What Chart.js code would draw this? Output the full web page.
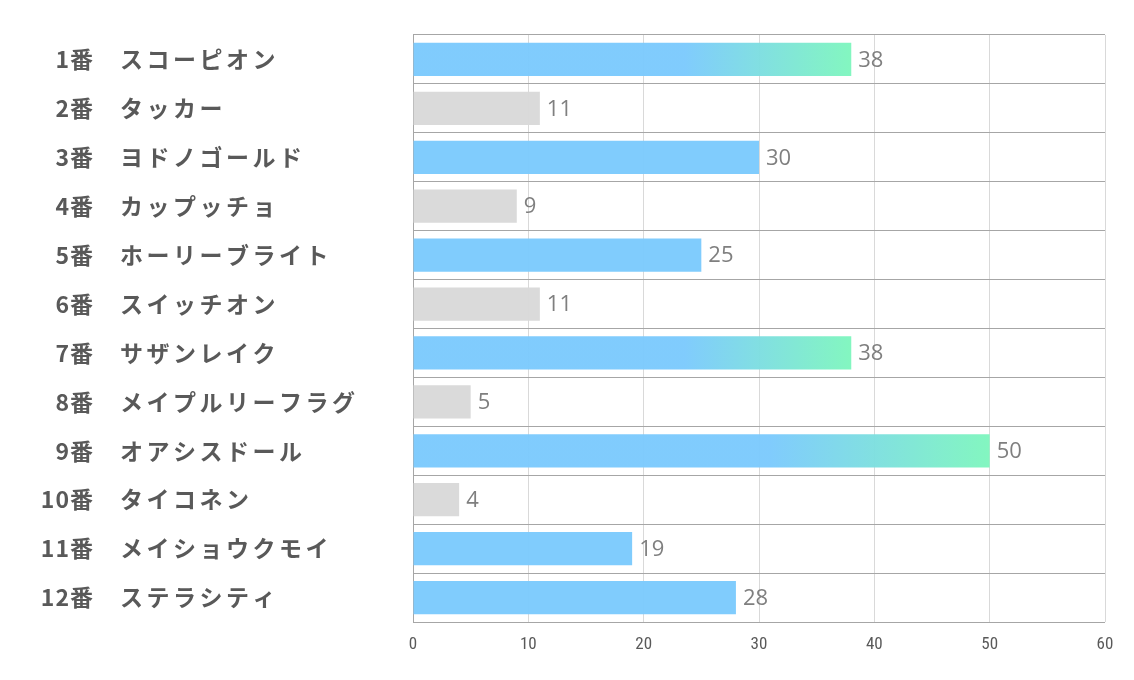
<!DOCTYPE html>
<html>
<head>
<meta charset="utf-8">
<script src="https://cdn.jsdelivr.net/npm/chart.js@4/dist/chart.umd.min.js"></script>
<style>
html,body{margin:0;padding:0;background:#fff;overflow:hidden;}
canvas{display:block;}
</style>
</head>
<body>
<canvas id="chartVotes" width="1134" height="680"></canvas>
<script>
// data
const horseNums = ['1番','2番','3番','4番','5番','6番','7番','8番','9番','10番','11番','12番'];
const horseNames = ['スコーピオン','タッカー','ヨドノゴールド','カップッチョ','ホーリーブライト','スイッチオン','サザンレイク','メイプルリーフラグ','オアシスドール','タイコネン','メイショウクモイ','ステラシティ'];
const votes = [38,11,30,9,25,11,38,5,50,4,19,28];
const xTicks = [0,10,20,30,40,50,60];

const BLUE = 'rgba(124,202,253,0.97)';
const GREEN = 'rgba(127,246,190,0.97)';
const GRAY = 'rgba(217,217,217,0.97)';
const LABEL_FONT = '"Noto Sans CJK JP", "Noto Sans", sans-serif';

// top 3 get the gradient, low ones are gray
const sorted = [...votes].sort((a,b)=>b-a);
const topCut = sorted[2];

function barColor(ctx){
    const v = votes[ctx.dataIndex];
    if(v < 15) return GRAY;
    if(v < topCut) return BLUE;
    const chart = ctx.chart;
    if(!chart.chartArea || !chart.scales.x) return BLUE;
    const x0 = chart.scales.x.getPixelForValue(0);
    const x1 = chart.scales.x.getPixelForValue(v);
    const g = chart.ctx.createLinearGradient(x0,0,x1,0);
    g.addColorStop(0,BLUE);
    g.addColorStop(0.62,BLUE);
    g.addColorStop(1,GREEN);
    return g;
}

// row labels: number right aligned, name left aligned
const rowLabels = {
    id:'rowLabels',
    afterDraw(chart){
        const c = chart.ctx, ys = chart.scales.y;
        c.save();
        c.font = 'bold 23px ' + LABEL_FONT;
        c.fillStyle = '#595959';
        c.textBaseline = 'middle';
        horseNums.forEach((n,i)=>{
            const y = ys.getPixelForValue(i);
            c.letterSpacing = '1px';
            c.textAlign = 'right';
            c.fillText(n,94,y);
            c.letterSpacing = '3.5px';
            c.textAlign = 'left';
            c.fillText(horseNames[i],120,y);
        });
        c.restore();
    }
};

// value labels at bar end
const valueLabels = {
    id:'valueLabels',
    afterDatasetsDraw(chart){
        const c = chart.ctx, meta = chart.getDatasetMeta(0);
        c.save();
        c.font = '22px "Open Sans", "Noto Sans", sans-serif';
        c.fillStyle = '#7f7f7f';
        c.textAlign = 'left';
        c.textBaseline = 'middle';
        meta.data.forEach((bar,i)=>{
            c.fillText(String(votes[i]),bar.x+7,bar.y+1);
        });
        c.restore();
    }
};

new Chart(document.getElementById('chartVotes'),{
    type:'bar',
    data:{
        labels:horseNums.map((n,i)=>n+'　'+horseNames[i]),
        datasets:[{data:votes,backgroundColor:barColor,borderWidth:0,categoryPercentage:1,barPercentage:0.68}]
    },
    options:{
        indexAxis:'y',
        responsive:false,
        animation:false,
        devicePixelRatio:1,
        layout:{padding:{left:0,right:29,top:35,bottom:0}},
        plugins:{legend:{display:false},tooltip:{enabled:false}},
        scales:{
            x:{
                min:0,max:60,
                afterBuildTicks:s=>{s.ticks = xTicks.map(v=>({value:v}));},
                afterFit:s=>{s.height = 58;},
                grid:{color:ctx=>ctx.index===0?'#a6a6a6':'#d9d9d9',lineWidth:1,drawTicks:false},
                border:{display:false},
                ticks:{padding:13,color:'#595959',font:{family:'"Liberation Sans Narrow", "Roboto Condensed", "Roboto", sans-serif',size:17}}
            },
            y:{
                afterFit:s=>{s.width = 413;},
                grid:{color:'#a6a6a6',lineWidth:1,drawTicks:false,offset:true},
                border:{display:false},
                ticks:{display:false}
            }
        }
    },
    plugins:[rowLabels,valueLabels]
});
</script>
</body>
</html>
